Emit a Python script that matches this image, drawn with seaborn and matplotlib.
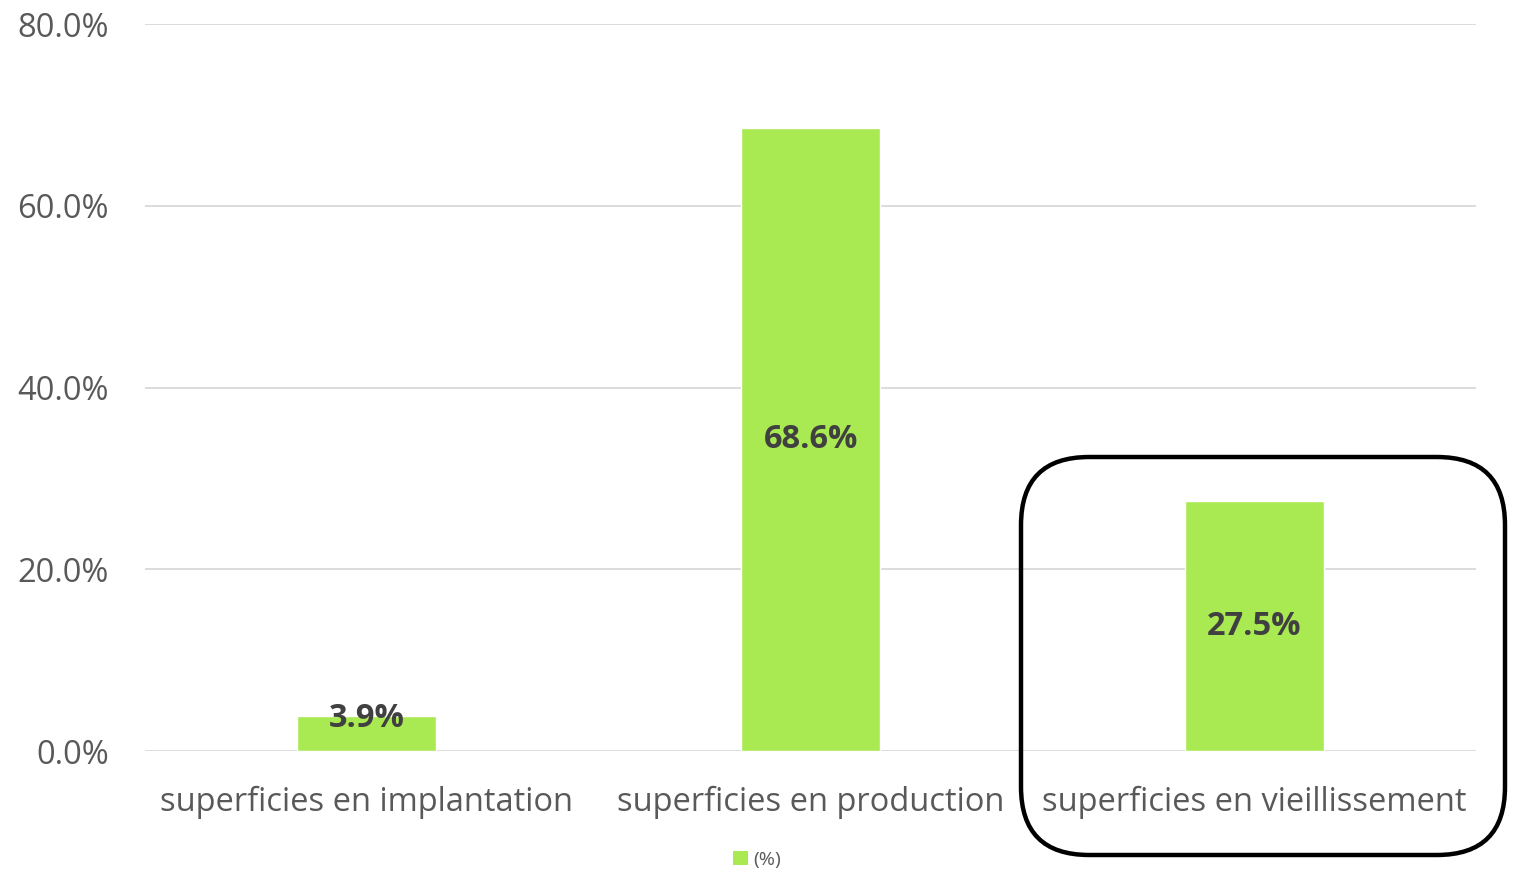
import pandas as pd
import matplotlib.pyplot as plt
import seaborn as sns
from matplotlib.patches import FancyBboxPatch, Patch
from matplotlib.ticker import FuncFormatter

# Chart data
categories = ["superficies en implantation", "superficies en production", "superficies en vieillissement"]
values = [3.9, 68.6, 27.5]
series_name = "(%)"

df = pd.DataFrame({"categorie": categories, "valeur": values})

sns.set_style("white")
plt.rcParams["font.family"] = ["Open Sans", "DejaVu Sans"]

bar_color = "#a9ea52"
text_grey = "#595959"

fig = plt.figure(figsize=(15.14, 8.74), dpi=100)
ax = fig.add_axes([0.0958, 0.1407, 0.8792, 0.8318])

sns.barplot(data=df, x="categorie", y="valeur", color=bar_color, width=0.313,
            saturation=1, ax=ax)

ax.set_ylim(0, 80)
ax.set_xlim(-0.5, 2.5)
ax.set_yticks([0, 20, 40, 60, 80])
ax.yaxis.set_major_formatter(FuncFormatter(lambda v, p: f"{v:.1f}%"))
ax.grid(axis="y", color="#d9d9d9", linewidth=1.3)
ax.set_axisbelow(True)
for s in ax.spines.values():
    s.set_visible(False)
ax.tick_params(axis="both", length=0, labelsize=23.5, colors=text_grey)
ax.tick_params(axis="y", pad=26)
ax.tick_params(axis="x", pad=25)
ax.set_xlabel("")
ax.set_ylabel("")

# Data labels
for i, v in enumerate(values):
    ax.text(i, max(v / 2, 3.6), f"{v:.1f}%", ha="center", va="center",
            fontsize=23.5, fontweight="bold", color="#404040")

# Legend at bottom
handles = [Patch(facecolor=bar_color, edgecolor="none", label=series_name)]
fig.legend(handles=handles, loc="center", bbox_to_anchor=(0.5, 0.016), frameon=False,
           fontsize=14, handlelength=0.75, handleheight=0.75, handletextpad=0.3,
           labelcolor=text_grey)

# Rounded highlight box around the last category
box = FancyBboxPatch((1021 / 1514, (874 - 855) / 874), (1505 - 1021) / 1514,
                     (855 - 457) / 874, boxstyle="round,pad=0,rounding_size=0.045",
                     transform=fig.transFigure, facecolor="none", edgecolor="black",
                     linewidth=3.2, mutation_aspect=1514 / 874)
fig.patches.append(box)

fig.savefig("out.png", dpi=100)
